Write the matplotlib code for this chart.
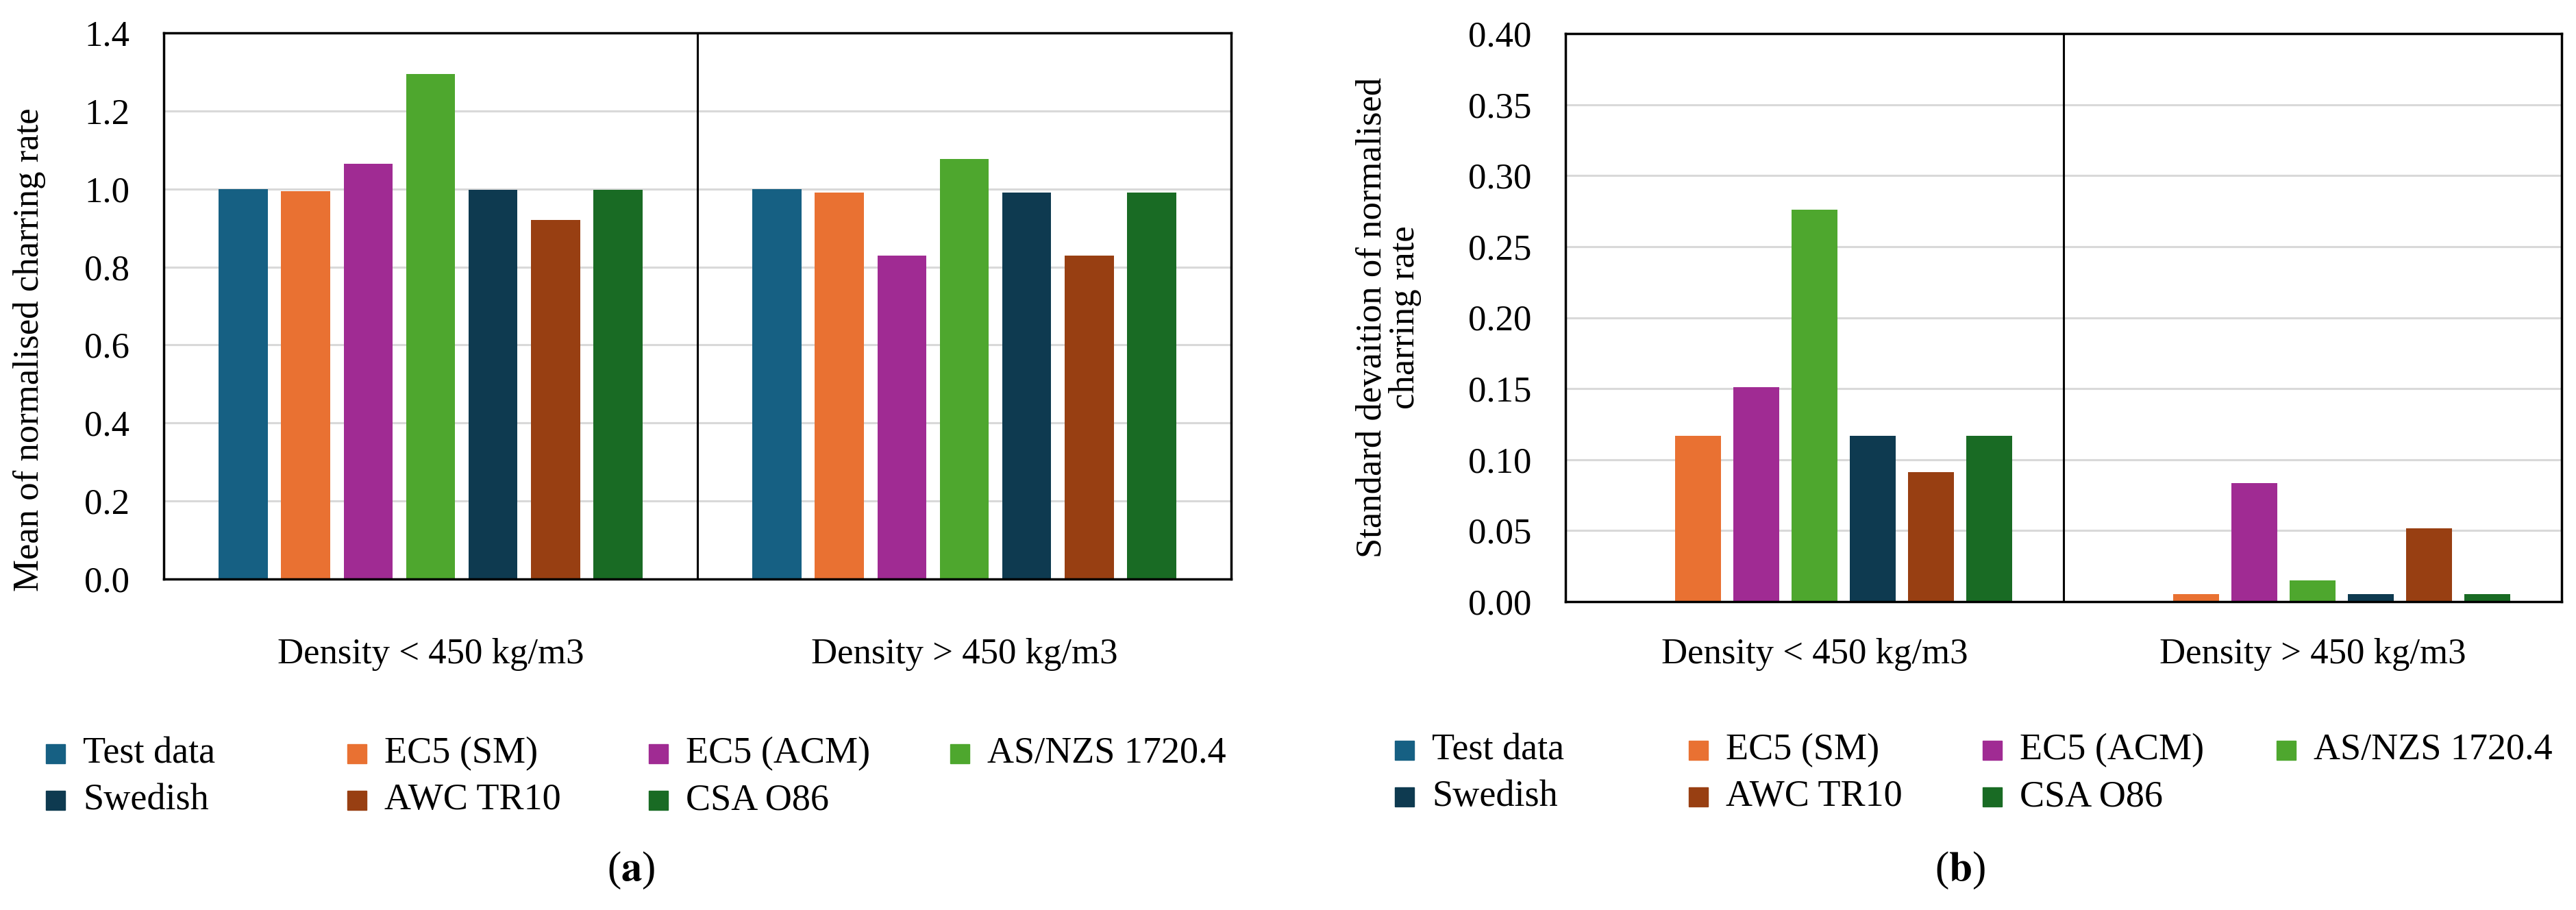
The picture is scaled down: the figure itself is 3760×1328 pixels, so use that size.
"""Mean and standard deviation of normalised charring rate, by density class."""

import numpy as np
import matplotlib

matplotlib.use("Agg")
import matplotlib.pyplot as plt
from matplotlib.patches import Rectangle

plt.rcParams["font.family"] = ["Liberation Serif", "DejaVu Serif"]
plt.rcParams["mathtext.fontset"] = "stix"

# ---- data -------------------------------------------------------------
categories = ["Density < 450 kg/m3", "Density > 450 kg/m3"]
models = ["Test data", "EC5 (SM)", "EC5 (ACM)", "AS/NZS 1720.4",
          "Swedish", "AWC TR10", "CSA O86"]
colors = ["#166083", "#E97132", "#A02B93", "#4EA72E",
          "#0E3A50", "#983F12", "#196B24"]

# rows = model, columns = density class
mean_rate = [
    [1.000, 1.000],
    [0.995, 0.991],
    [1.064, 0.829],
    [1.294, 1.077],
    [0.997, 0.991],
    [0.921, 0.829],
    [0.997, 0.991],
]
std_rate = [
    [0.000, 0.000],
    [0.117, 0.0055],
    [0.151, 0.0836],
    [0.276, 0.0149],
    [0.117, 0.0055],
    [0.091, 0.0518],
    [0.117, 0.0055],
]

FS = 38
W, H = 3760, 1328


def bar_panel(ax, values, ymax, step, fmt, xpad):
    x = np.arange(len(categories))
    slot = 0.117
    for i, (vals, c) in enumerate(zip(values, colors)):
        off = (i - 3) * slot
        ax.bar(x + off, vals, width=0.092, color=c, zorder=3)
    ax.set_xlim(-0.5, 1.5)
    ax.set_ylim(0, ymax)
    ticks = np.arange(0, ymax + step / 2, step)
    ax.set_yticks(ticks)
    ax.set_yticklabels([fmt.format(v) for v in ticks])
    ax.set_xticks(x)
    ax.set_xticklabels(categories)
    ax.tick_params(axis="both", length=0, labelsize=FS)
    ax.tick_params(axis="y", pad=36)
    ax.tick_params(axis="x", pad=xpad)
    ax.yaxis.grid(True, color="#D9D9D9", linewidth=2.2, zorder=0)
    ax.axvline(0.5, color="black", linewidth=2.2, zorder=4)
    for s in ax.spines.values():
        s.set_linewidth(2.5)
        s.set_color("black")
        s.set_zorder(5)


fig = plt.figure(figsize=(W / 100, H / 100), dpi=100)

ax1 = fig.add_axes([239 / W, 1 - 845 / H, 1558 / W, 797 / H])
bar_panel(ax1, mean_rate, 1.4, 0.2, "{:.1f}", 62)

ax2 = fig.add_axes([2285 / W, 1 - 878 / H, 1454 / W, 829 / H])
bar_panel(ax2, std_rate, 0.40, 0.05, "{:.2f}", 38)

fig.text(43 / W, 1 - 510 / H, "Mean of normalised charring rate",
         rotation=90, ha="center", va="center", fontsize=FS)
fig.text(2027 / W, 1 - 463 / H, "Standard devaition of normalised\ncharring rate",
         rotation=90, ha="center", va="center", fontsize=FS, linespacing=1.0)

# legends: two rows of four evenly spaced columns
for x0, dx, y_rows in [(67, 440, (1100, 1168)), (2036, 429, (1095, 1163))]:
    for k, (name, c) in enumerate(zip(models, colors)):
        col, row = k % 4, k // 4
        xm = x0 + col * dx
        ym = y_rows[row]
        fig.patches.append(Rectangle((xm / W, 1 - (ym + 14) / H), 28 / W, 28 / H,
                                     transform=fig.transFigure, color=c))
        fig.text((xm + 54) / W, 1 - ym / H, name, ha="left", va="center",
                 fontsize=FS + 1)

fig.text(921 / W, 1 - 1270 / H, r"($\mathbf{a}$)", ha="center", va="center", fontsize=FS + 6)
fig.text(2861 / W, 1 - 1270 / H, r"($\mathbf{b}$)", ha="center", va="center", fontsize=FS + 6)

fig.savefig("out.png", dpi=100)
